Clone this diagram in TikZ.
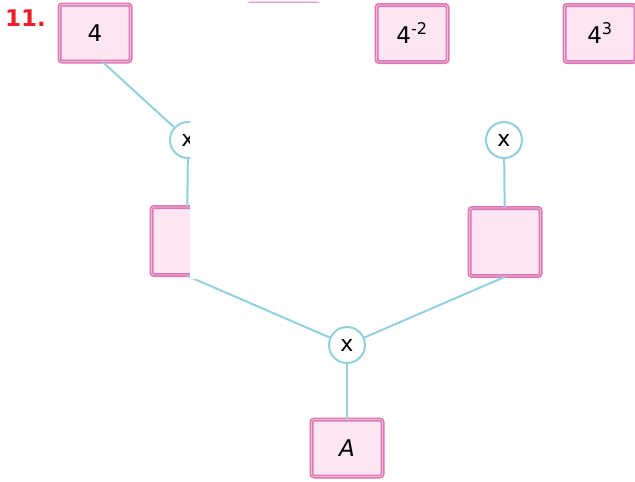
\documentclass[tikz,border=0pt]{standalone}
\usepackage{fontspec}
\setmainfont{DejaVu Sans}
\usetikzlibrary{calc}
\definecolor{boxfill}{HTML}{FCE6F3}
\definecolor{boxline}{HTML}{DE78B4}
\definecolor{boxinner}{HTML}{F4BEDC}
\definecolor{link}{HTML}{92D0E0}
\definecolor{numred}{HTML}{E8202A}
\begin{document}
\begin{tikzpicture}[x=1pt,y=-1pt,
  pbox/.style={draw=boxline, fill=boxfill, line width=1.6pt, double=boxinner, double distance=0.8pt,
    rounded corners=2.5pt, minimum width=71pt, minimum height=57pt, inner sep=0pt,
    font=\fontsize{23}{25}\selectfont},
  tallbox/.style={pbox, minimum height=68pt},
  opc/.style={circle, draw=link, fill=white, line width=2pt, minimum size=36pt, inner sep=0pt,
    font=\fontsize{22}{22}\selectfont},
  conn/.style={draw=link, line width=2pt}]
\useasboundingbox (0,0) rectangle (635,482);
% nodes
\node[pbox] (b4) at (95,33) {4};
\node[pbox] (bsl) at (283.5,32) {};
\node[pbox] (bm2) at (412,33.5) {4\textsuperscript{-2}};
\node[pbox] (b43) at (600,33.5) {4\textsuperscript{3}};
\node[opc] (c1) at (188,140) {x};
\node[opc] (c2) at (504,140) {x};
\node[tallbox] (bl) at (187,241) {};
\node[tallbox] (br) at (505,242) {};
\node[opc] (c3) at (347,345) {x};
\node[pbox] (bA) at (347,448) {\itshape A};
% connectors
\path[conn] (c1) -- ($(b4.south)+(8,0)$);
\path[conn] (c1) -- (bl);
\path[conn] (c2) -- (br);
\path[conn] (bl.south) -- (c3);
\path[conn] (br.south) -- (c3);
\path[conn] (c3) -- (bA);
% occluding white patch
\fill[white] (190,2.5) -- (362,2.5) -- (362,72) -- (465,72) -- (465,279) -- (190,279) -- cycle;
\node[anchor=base west, text=numred, font=\bfseries\fontsize{23}{26}\selectfont, inner sep=0pt] (num) at (5,26) {11.};
\end{tikzpicture}
\end{document}
